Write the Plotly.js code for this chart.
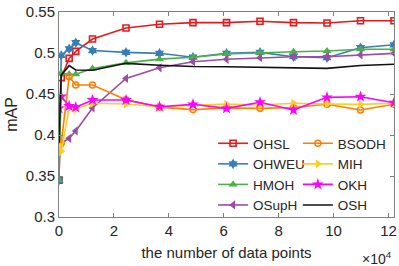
<!DOCTYPE html>
<html>
<head>
<meta charset="utf-8">
<script src="https://cdn.plot.ly/plotly-3.0.1.min.js"></script>
<style>html,body{margin:0;padding:0;background:#fff;}#chart{width:399px;height:266px;}</style>
</head>
<body>
<div id="chart"></div>
<script>
// x in units of 10^4 data points
const xPoints = [0, 0.08, 0.37, 0.61, 1.22, 2.44, 3.66, 4.88, 6.1, 7.32, 8.54, 9.76, 10.98, 12.2];

const OHSL  = [0.345, 0.470, 0.4935, 0.502, 0.517, 0.5305, 0.535, 0.537, 0.537, 0.5387, 0.537, 0.5366, 0.5394, 0.5394];
const OHWEU = [0.345, 0.497, 0.505, 0.5126, 0.503, 0.5008, 0.4996, 0.4948, 0.4996, 0.5008, 0.4955, 0.4943, 0.5065, 0.510];
const HMOH  = [0.345, 0.4755, 0.474, 0.474, 0.481, 0.488, 0.4925, 0.4948, 0.4988, 0.5004, 0.5016, 0.5024, 0.5045, 0.5045];
const OSupH = [0.388, 0.390, 0.396, 0.405, 0.433, 0.469, 0.482, 0.4894, 0.4923, 0.4943, 0.4955, 0.4955, 0.4976, 0.4996];
const BSODH = [0.388, 0.390, 0.471, 0.461, 0.461, 0.443, 0.434, 0.431, 0.433, 0.4325, 0.4335, 0.4375, 0.4305, 0.4375];
const MIH   = [0.388, 0.380, 0.4326, 0.4317, 0.4387, 0.4378, 0.4345, 0.4366, 0.4378, 0.4366, 0.4387, 0.4378, 0.4374, 0.4387];
const OKH   = [0.4325, 0.447, 0.4354, 0.4338, 0.4427, 0.4427, 0.4345, 0.4374, 0.4325, 0.4399, 0.4305, 0.4459, 0.4467, 0.4394];
const OSH   = [0.390, 0.473, 0.4846, 0.4793, 0.479, 0.4874, 0.485, 0.4835, 0.4833, 0.4828, 0.4825, 0.4813, 0.4848, 0.4862];

const xTicks = [0, 2, 4, 6, 8, 10, 12];
const yTicks = [0.3, 0.35, 0.4, 0.45, 0.5, 0.55];
const yTickText = ['0.3', '0.35', '0.4', '0.45', '0.5', '0.55'];

function tr(name, y, color, symbol, size, legend, open) {
  const t = {
    type: 'scatter', mode: symbol ? 'lines+markers' : 'lines',
    name: name, x: xPoints, y: y, legend: legend,
    line: {color: color, width: 1.6},
  };
  if (symbol) {
    t.marker = open
      ? {symbol: symbol, size: size, color: color, line: {color: color, width: 1.6}}
      : {symbol: symbol, size: size, color: color, line: {width: 0}};
  }
  return t;
}

const data = [
  tr('OHSL', OHSL, '#e41a1c', 'square-open', 6, 'legend', true),
  tr('OHWEU', OHWEU, '#377eb8', 'hexagram', 8, 'legend', false),
  tr('HMOH', HMOH, '#4daf4a', 'triangle-up', 8, 'legend', false),
  tr('OSupH', OSupH, '#984ea3', 'triangle-left', 8, 'legend', false),
  tr('BSODH', BSODH, '#ff7f00', 'circle-open', 6, 'legend2', true),
  tr('MIH', MIH, '#ffcc22', 'triangle-right', 8, 'legend2', false),
  tr('OKH', OKH, '#ff00ff', 'star', 9, 'legend2', false),
  tr('OSH', OSH, '#111111', null, 0, 'legend2', false)
];

const FAM = 'Liberation Sans, Arial, sans-serif';
const fnt = {family: FAM, size: 15, color: '#262626'};
const legFont = {family: FAM, size: 13.5, color: '#262626'};

const layout = {
  width: 399, height: 266,
  margin: {l: 59, r: 5, t: 12, b: 49},
  paper_bgcolor: '#fff', plot_bgcolor: '#fff',
  font: fnt,
  showlegend: true,
  xaxis: {
    range: [0, 12.2], tickvals: xTicks, ticktext: xTicks.map(String),
    ticks: 'inside', ticklen: 4, tickcolor: '#808080', mirror: 'ticks',
    showline: true, linecolor: '#808080', linewidth: 1,
    showgrid: false, zeroline: false, tickfont: fnt,
    title: {text: 'the number of data points', font: fnt, standoff: 9}
  },
  yaxis: {
    range: [0.3, 0.55], tickvals: yTicks, ticktext: yTickText,
    ticks: 'inside', ticklen: 4, tickcolor: '#808080', mirror: 'ticks',
    showline: true, linecolor: '#808080', linewidth: 1,
    showgrid: false, zeroline: false, tickfont: fnt,
    title: {text: 'mAP', font: {family: FAM, size: 16, color: '#262626'}, standoff: 4}
  },
  legend: {x: 0.46, y: 0.434, xanchor: 'left', yanchor: 'top', bgcolor: 'rgba(0,0,0,0)',
           borderwidth: 0, font: legFont, tracegroupgap: 0},
  legend2: {x: 0.713, y: 0.434, xanchor: 'left', yanchor: 'top', bgcolor: 'rgba(0,0,0,0)',
           borderwidth: 0, font: legFont, tracegroupgap: 0},
  annotations: [{
    xref: 'paper', yref: 'paper', x: 1.0, y: -0.2, xanchor: 'right', yanchor: 'middle',
    text: '×10<sup>4</sup>', showarrow: false, font: {family: FAM, size: 14, color: '#262626'}
  }]
};

Plotly.newPlot('chart', data, layout, {displayModeBar: false, staticPlot: true});
</script>
</body>
</html>
